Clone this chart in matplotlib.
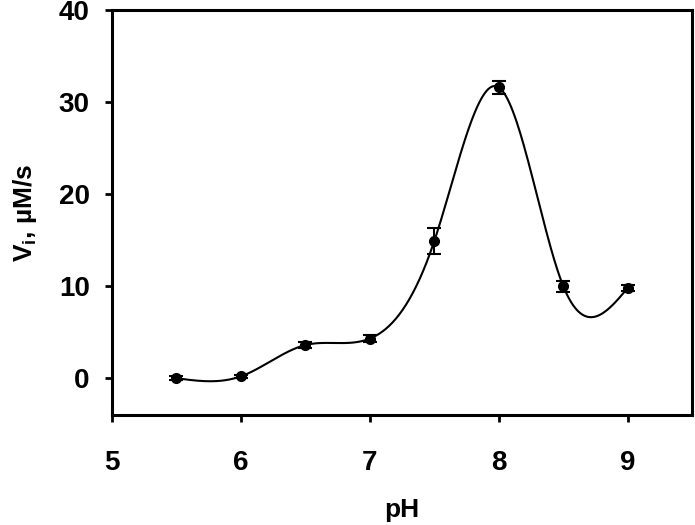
import numpy as np
import matplotlib
matplotlib.use("Agg")
import matplotlib.pyplot as plt

plt.rcParams["font.family"] = ["Liberation Sans", "DejaVu Sans"]
plt.rcParams["font.weight"] = "bold"
plt.rcParams["mathtext.fontset"] = "custom"
plt.rcParams["mathtext.bf"] = "Liberation Sans:bold"
plt.rcParams["mathtext.rm"] = "Liberation Sans:bold"

ph = [5.5, 6.0, 6.5, 7.0, 7.5, 8.0, 8.5, 9.0]
rate = [0.0, 0.2, 3.6, 4.3, 14.9, 31.6, 10.0, 9.8]
rate_err = [0.2, 0.2, 0.3, 0.4, 1.4, 0.7, 0.6, 0.3]


def natural_spline(x, y, n=400):
    # plain natural cubic spline through the points
    x = np.asarray(x, float)
    y = np.asarray(y, float)
    k = len(x)
    h = np.diff(x)
    A = np.zeros((k, k))
    b = np.zeros(k)
    A[0, 0] = A[-1, -1] = 1.0
    for i in range(1, k - 1):
        A[i, i - 1] = h[i - 1]
        A[i, i] = 2 * (h[i - 1] + h[i])
        A[i, i + 1] = h[i]
        b[i] = 6 * ((y[i + 1] - y[i]) / h[i] - (y[i] - y[i - 1]) / h[i - 1])
    m = np.linalg.solve(A, b)
    xs = np.linspace(x[0], x[-1], n)
    idx = np.clip(np.searchsorted(x, xs) - 1, 0, k - 2)
    x0, x1 = x[idx], x[idx + 1]
    hh = x1 - x0
    t0 = x1 - xs
    t1 = xs - x0
    ys = (m[idx] * t0 ** 3 + m[idx + 1] * t1 ** 3) / (6 * hh) \
        + (y[idx] / hh - m[idx] * hh / 6) * t0 \
        + (y[idx + 1] / hh - m[idx + 1] * hh / 6) * t1
    return xs, ys


fig = plt.figure(figsize=(6.95, 5.25), dpi=100)
ax = fig.add_axes([0.161, 0.2095, 0.835, 0.7715])

xs, ys = natural_spline(ph, rate)
ax.plot(xs, ys, color="black", lw=1.5)
ax.errorbar(ph, rate, yerr=rate_err, fmt="o", color="black", ms=7,
            capsize=5, capthick=1.5, elinewidth=1.5)

ax.set_xlim(5, 9.5)
ax.set_ylim(-4, 40)
ax.set_xticks([5, 6, 7, 8, 9])
ax.set_yticks([0, 10, 20, 30, 40])

for s in ax.spines.values():
    s.set_linewidth(2.2)

ax.tick_params(axis="x", direction="out", length=5, width=2, pad=20, labelsize=20)
ax.tick_params(axis="y", direction="out", length=5, width=2, pad=11, labelsize=20)
for lab in ax.get_xticklabels() + ax.get_yticklabels():
    lab.set_fontweight("bold")

ax.set_xlabel("pH", fontsize=19, fontweight="bold", labelpad=16)
ax.set_ylabel(r"V$_\mathbf{i}$, µM/s", fontsize=19, fontweight="bold", labelpad=14)

fig.savefig("out.png", dpi=100)
